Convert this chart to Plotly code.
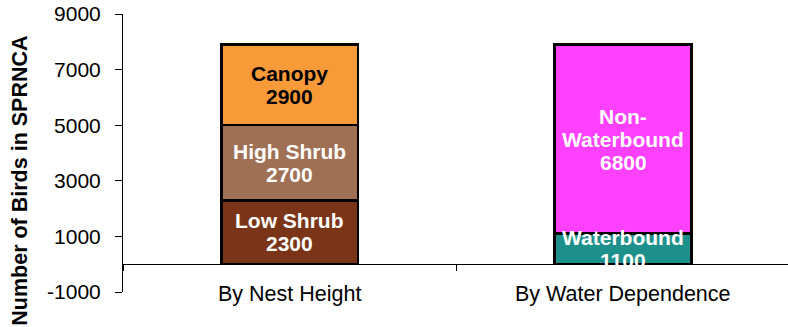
import plotly.graph_objects as go

# Bird counts in the SPRNCA, split two ways
categories = ["By Nest Height", "By Water Dependence"]

nest_labels = ["Low Shrub", "High Shrub", "Canopy"]
nest_values = [2300, 2700, 2900]
nest_colors = ["#7A3519", "#A07054", "#F99A39"]
nest_text_colors = ["white", "white", "black"]

water_labels = ["Waterbound", "Non-\nWaterbound"]
water_values = [1100, 6800]
water_colors = ["#1E908C", "#FF40FF"]
water_text_colors = ["white", "white"]

y_ticks = [-1000, 1000, 3000, 5000, 7000, 9000]
y_tick_text = ["-1000", "1000", "3000", "5000", "7000", "9000"]

FONT = "Arial, Liberation Sans, sans-serif"
LABEL_SIZE = 21
LINE_GAP = 23

fig = go.Figure()
annotations = []

groups = [
    (0, nest_labels, nest_values, nest_colors, nest_text_colors),
    (1, water_labels, water_values, water_colors, water_text_colors),
]

for xpos, labels, values, colors, tcolors in groups:
    base = 0
    for lab, val, col, tcol in zip(labels, values, colors, tcolors):
        fig.add_trace(go.Bar(
            x=[xpos], y=[val], name=lab.replace("\n", " "),
            marker=dict(color=col, line=dict(color="black", width=2.5)),
            width=0.41, showlegend=False, hoverinfo="skip",
        ))
        lines = lab.split("\n") + [str(val)]
        mid = base + val / 2
        n = len(lines)
        for i, line in enumerate(lines):
            annotations.append(dict(
                x=xpos, y=mid, xref="x", yref="y", text=f"<b>{line}</b>",
                showarrow=False, xanchor="center", yanchor="middle",
                yshift=((n - 1) / 2 - i) * LINE_GAP,
                font=dict(family=FONT, size=LABEL_SIZE, color=tcol),
            ))
        base += val

# category names along the bottom of the plot
for i, cat in enumerate(categories):
    annotations.append(dict(
        x=i, y=y_ticks[0], xref="x", yref="y", text=cat, showarrow=False,
        xanchor="center", yanchor="middle", yshift=-2,
        font=dict(family=FONT, size=21.5, color="black"),
    ))

# rotated y-axis title
annotations.append(dict(
    x=-0.155, y=0.40, xref="paper", yref="paper",
    text="<b>Number of Birds in SPRNCA</b>", textangle=-90, showarrow=False,
    xanchor="center", yanchor="middle",
    font=dict(family=FONT, size=21.5, color="black"),
))

y0, y1 = y_ticks[0], y_ticks[-1]
fig.update_layout(
    barmode="stack",
    width=788, height=327,
    margin=dict(l=123, r=0, t=14, b=35),
    paper_bgcolor="white", plot_bgcolor="white",
    annotations=annotations,
    xaxis=dict(
        range=[-0.5, 1.495], anchor="free",
        position=(0 - y0) / (y1 - y0),
        showline=True, linecolor="black", linewidth=1,
        ticks="outside", ticklen=6, tickcolor="black",
        tickvals=[-0.5, 0.5, 1.5], showticklabels=False,
        showgrid=False, zeroline=False,
    ),
    yaxis=dict(
        range=[y0, y1], tickvals=y_ticks, ticktext=y_tick_text,
        showline=True, linecolor="black", linewidth=1,
        ticks="outside", ticklen=7, tickcolor="black",
        ticklabelstandoff=10,
        tickfont=dict(family=FONT, size=21, color="black"),
        showgrid=False, zeroline=False,
    ),
)

fig.write_html("out.html")
